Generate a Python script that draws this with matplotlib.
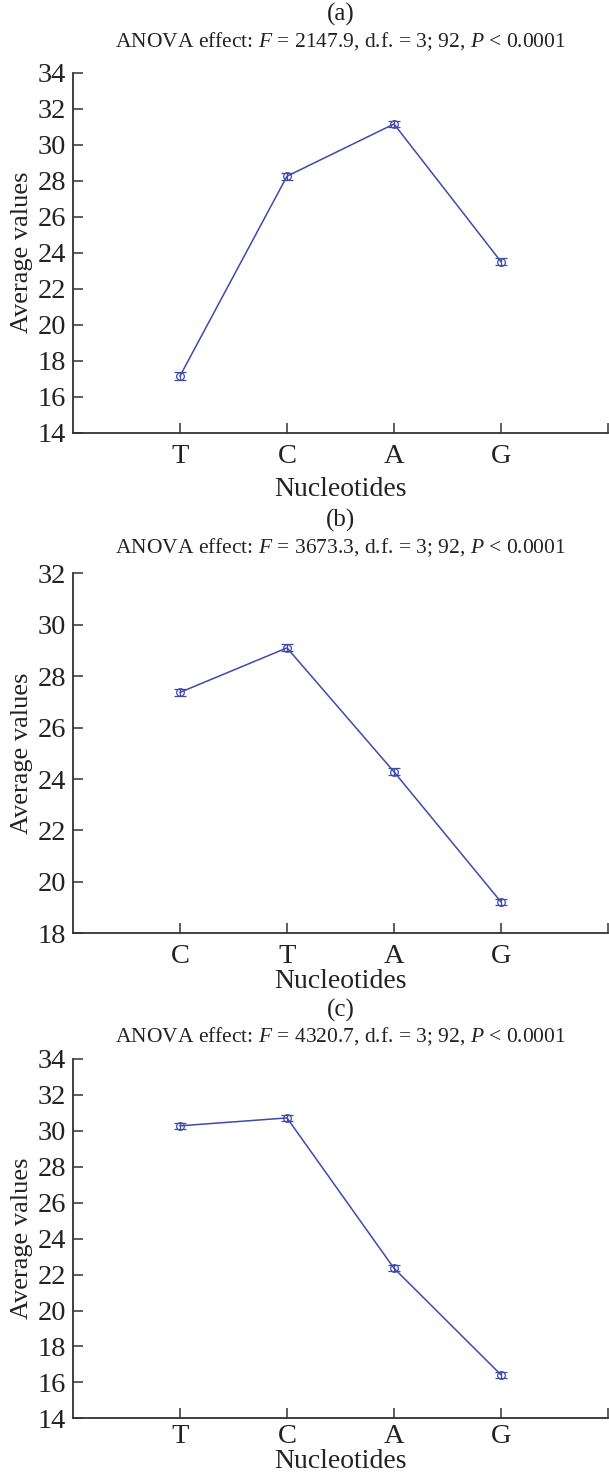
import matplotlib
matplotlib.use('Agg')
import matplotlib.pyplot as plt
import numpy as np

plt.rcParams.update({
    'font.family': 'Liberation Serif',
    'mathtext.fontset': 'custom',
    'mathtext.rm': 'Liberation Serif',
    'mathtext.it': 'Liberation Serif:italic',
})

# panel (a)
labels_a = ['T', 'C', 'A', 'G']
means_a = [17.15, 28.25, 31.15, 23.5]
err_a = [0.2, 0.2, 0.18, 0.2]
# panel (b)
labels_b = ['C', 'T', 'A', 'G']
means_b = [27.37, 29.1, 24.28, 19.22]
err_b = [0.15, 0.14, 0.14, 0.13]
# panel (c)
labels_c = ['T', 'C', 'A', 'G']
means_c = [30.28, 30.72, 22.35, 16.42]
err_c = [0.17, 0.17, 0.17, 0.17]

titles = ['(a)', '(b)', '(c)']
anova = [r'ANOVA effect: $F$ = 2147.9, d.f. = 3; 92, $P$ < 0.0001',
         r'ANOVA effect: $F$ = 3673.3, d.f. = 3; 92, $P$ < 0.0001',
         r'ANOVA effect: $F$ = 4320.7, d.f. = 3; 92, $P$ < 0.0001']
ylims = [(14, 34), (18, 32), (14, 34)]

W, H = 609, 1476
fig = plt.figure(figsize=(W / 100, H / 100), dpi=100)

# pixel boxes: (top, bottom) of each axes, plus y of panel letter and anova line
boxes = [(72.7, 432.7), (573.3, 933.3), (1059, 1418.3)]
letter_y = [14, 520, 1010]
anova_y = [42, 548, 1037]
xtick_pad = [8, 8, 4]
xlabel_pad = [6, 0, 0]
left, right = 73, 608
col = '#3f4aaa'
axcol = '#333333'
txt = '#222222'

data = [(labels_a, means_a, err_a), (labels_b, means_b, err_b), (labels_c, means_c, err_c)]

for i, (labs, m, e) in enumerate(data):
    top, bot = boxes[i]
    ax = fig.add_axes([left / W, 1 - bot / H, (right - left) / W, (bot - top) / H])
    x = np.arange(1, len(labs) + 1)
    ax.errorbar(x, m, yerr=e, fmt='-o', color=col, lw=1.1, ms=5.5,
                mfc='none', mec=col, mew=0.9, capsize=4, capthick=0.9, elinewidth=0.9)
    ax.set_xlim(0, 5)
    ax.set_ylim(*ylims[i])
    ax.set_yticks(np.arange(ylims[i][0], ylims[i][1] + 1, 2))
    ax.set_xticks([1, 2, 3, 4, 5])
    ax.set_xticklabels(labs + [''])
    for s in ['top', 'right']:
        ax.spines[s].set_visible(False)
    for s in ['left', 'bottom']:
        ax.spines[s].set_color(axcol)
        ax.spines[s].set_linewidth(1.3)
    ax.tick_params(direction='in', length=7, width=1.1, color=axcol,
                   labelsize=20.5, labelcolor=txt)
    ax.tick_params(axis='y', pad=5)
    ax.tick_params(axis='x', pad=xtick_pad[i])
    ax.set_ylabel('Average values', fontsize=19, color=txt)
    ax.yaxis.set_label_coords(-0.075, 0.5)
    ax.set_xlabel('Nucleotides', fontsize=20, color=txt, labelpad=xlabel_pad[i])
    cx = (left + right) / 2 / W
    fig.text(cx, 1 - letter_y[i] / H, titles[i], ha='center', va='center',
             fontsize=18, color=txt)
    fig.text(cx, 1 - anova_y[i] / H, anova[i], ha='center', va='center',
             fontsize=15.5, color=txt)

fig.savefig('out.png', dpi=100)
